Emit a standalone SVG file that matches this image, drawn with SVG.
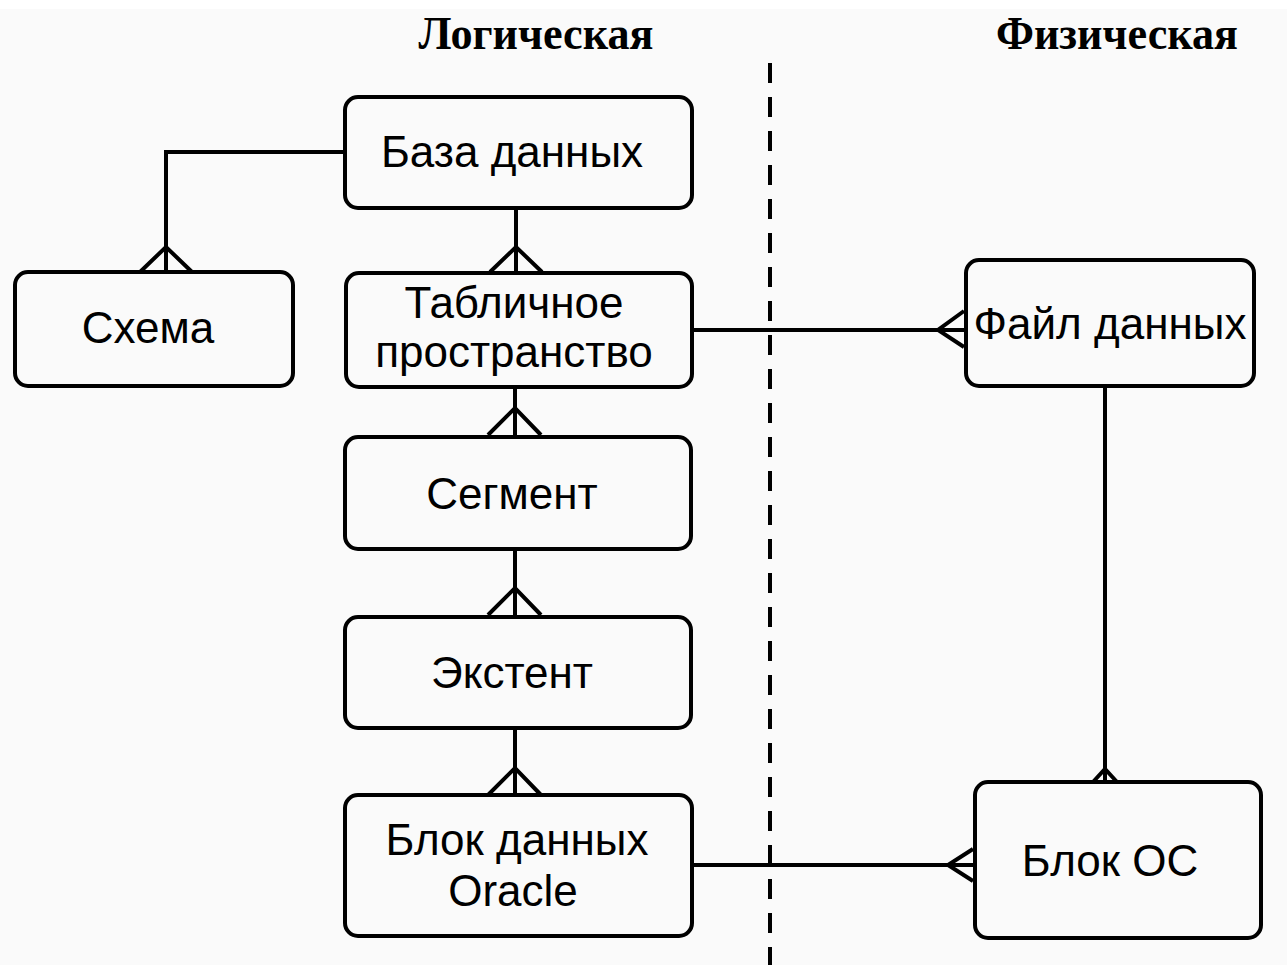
<svg xmlns="http://www.w3.org/2000/svg" width="1287" height="965" viewBox="0 0 1287 965">
<style>
.box{fill:#fafafa;stroke:#000;stroke-width:4}
.lbl{font-family:"Liberation Sans",Arial,sans-serif;font-size:44px;fill:#000;text-anchor:middle}
.ttl{font-family:"Liberation Serif","Times New Roman",serif;font-weight:bold;font-size:47px;fill:#000;text-anchor:middle}
.ln{fill:none;stroke:#000;stroke-width:4}
</style>
<rect x="0" y="0" width="1287" height="965" fill="#fafafa"/>
<rect x="0" y="0" width="1287" height="9" fill="#ffffff"/>
<g id="titles">
<text class="ttl" transform="translate(536 49) scale(0.94 1)" x="0" y="0">Логическая</text>
<text class="ttl" transform="translate(1117 49) scale(0.94 1)" x="0" y="0">Физическая</text>
</g>
<line x1="770" y1="63" x2="770" y2="965" stroke="#000" stroke-width="4" stroke-dasharray="20 14"/>
<g id="connectors">
<path class="ln" d="M345 152 H166 V272"/>
<path class="ln" d="M140 272 L166 247 L192 272"/>
<path class="ln" d="M516 210 V272"/>
<path class="ln" d="M490 272 L516 247 L542 272"/>
<path class="ln" d="M515 388 V435"/>
<path class="ln" d="M488 435 L515 408 L541 435"/>
<path class="ln" d="M515 551 V615"/>
<path class="ln" d="M488 615 L515 588 L541 615"/>
<path class="ln" d="M515 730 V795"/>
<path class="ln" d="M488 795 L515 768 L541 795"/>
<path class="ln" d="M692 330 H964"/>
<path class="ln" d="M964 311 L938 330 L964 347"/>
<path class="ln" d="M693 865 H973"/>
<path class="ln" d="M973 849 L948 865 L973 881"/>
<path class="ln" d="M1105 388 V782"/>
<path class="ln" d="M1093 782 L1105 769 L1117 782"/>
</g>
<g id="n-db"><rect class="box" x="345" y="97" width="347" height="111" rx="13"/><text class="lbl" x="512" y="167">База данных</text></g>
<g id="n-schema"><rect class="box" x="15" y="272" width="278" height="114" rx="13"/><text class="lbl" x="148" y="343">Схема</text></g>
<g id="n-ts"><rect class="box" x="346" y="273" width="346" height="114" rx="13"/><text class="lbl" x="514" y="318">Табличное</text><text class="lbl" x="514" y="367">пространство</text></g>
<g id="n-seg"><rect class="box" x="345" y="437" width="346" height="112" rx="13"/><text class="lbl" x="512" y="509">Сегмент</text></g>
<g id="n-ext"><rect class="box" x="345" y="617" width="346" height="111" rx="13"/><text class="lbl" x="512" y="688">Экстент</text></g>
<g id="n-block"><rect class="box" x="345" y="795" width="347" height="141" rx="13"/><text class="lbl" x="517" y="855">Блок данных</text><text class="lbl" x="513" y="906">Oracle</text></g>
<g id="n-file"><rect class="box" x="966" y="260" width="288" height="126" rx="13"/><text class="lbl" x="1110" y="339">Файл данных</text></g>
<g id="n-osblock"><rect class="box" x="975" y="782" width="286" height="156" rx="13"/><text class="lbl" x="1110" y="876">Блок ОС</text></g>
</svg>
